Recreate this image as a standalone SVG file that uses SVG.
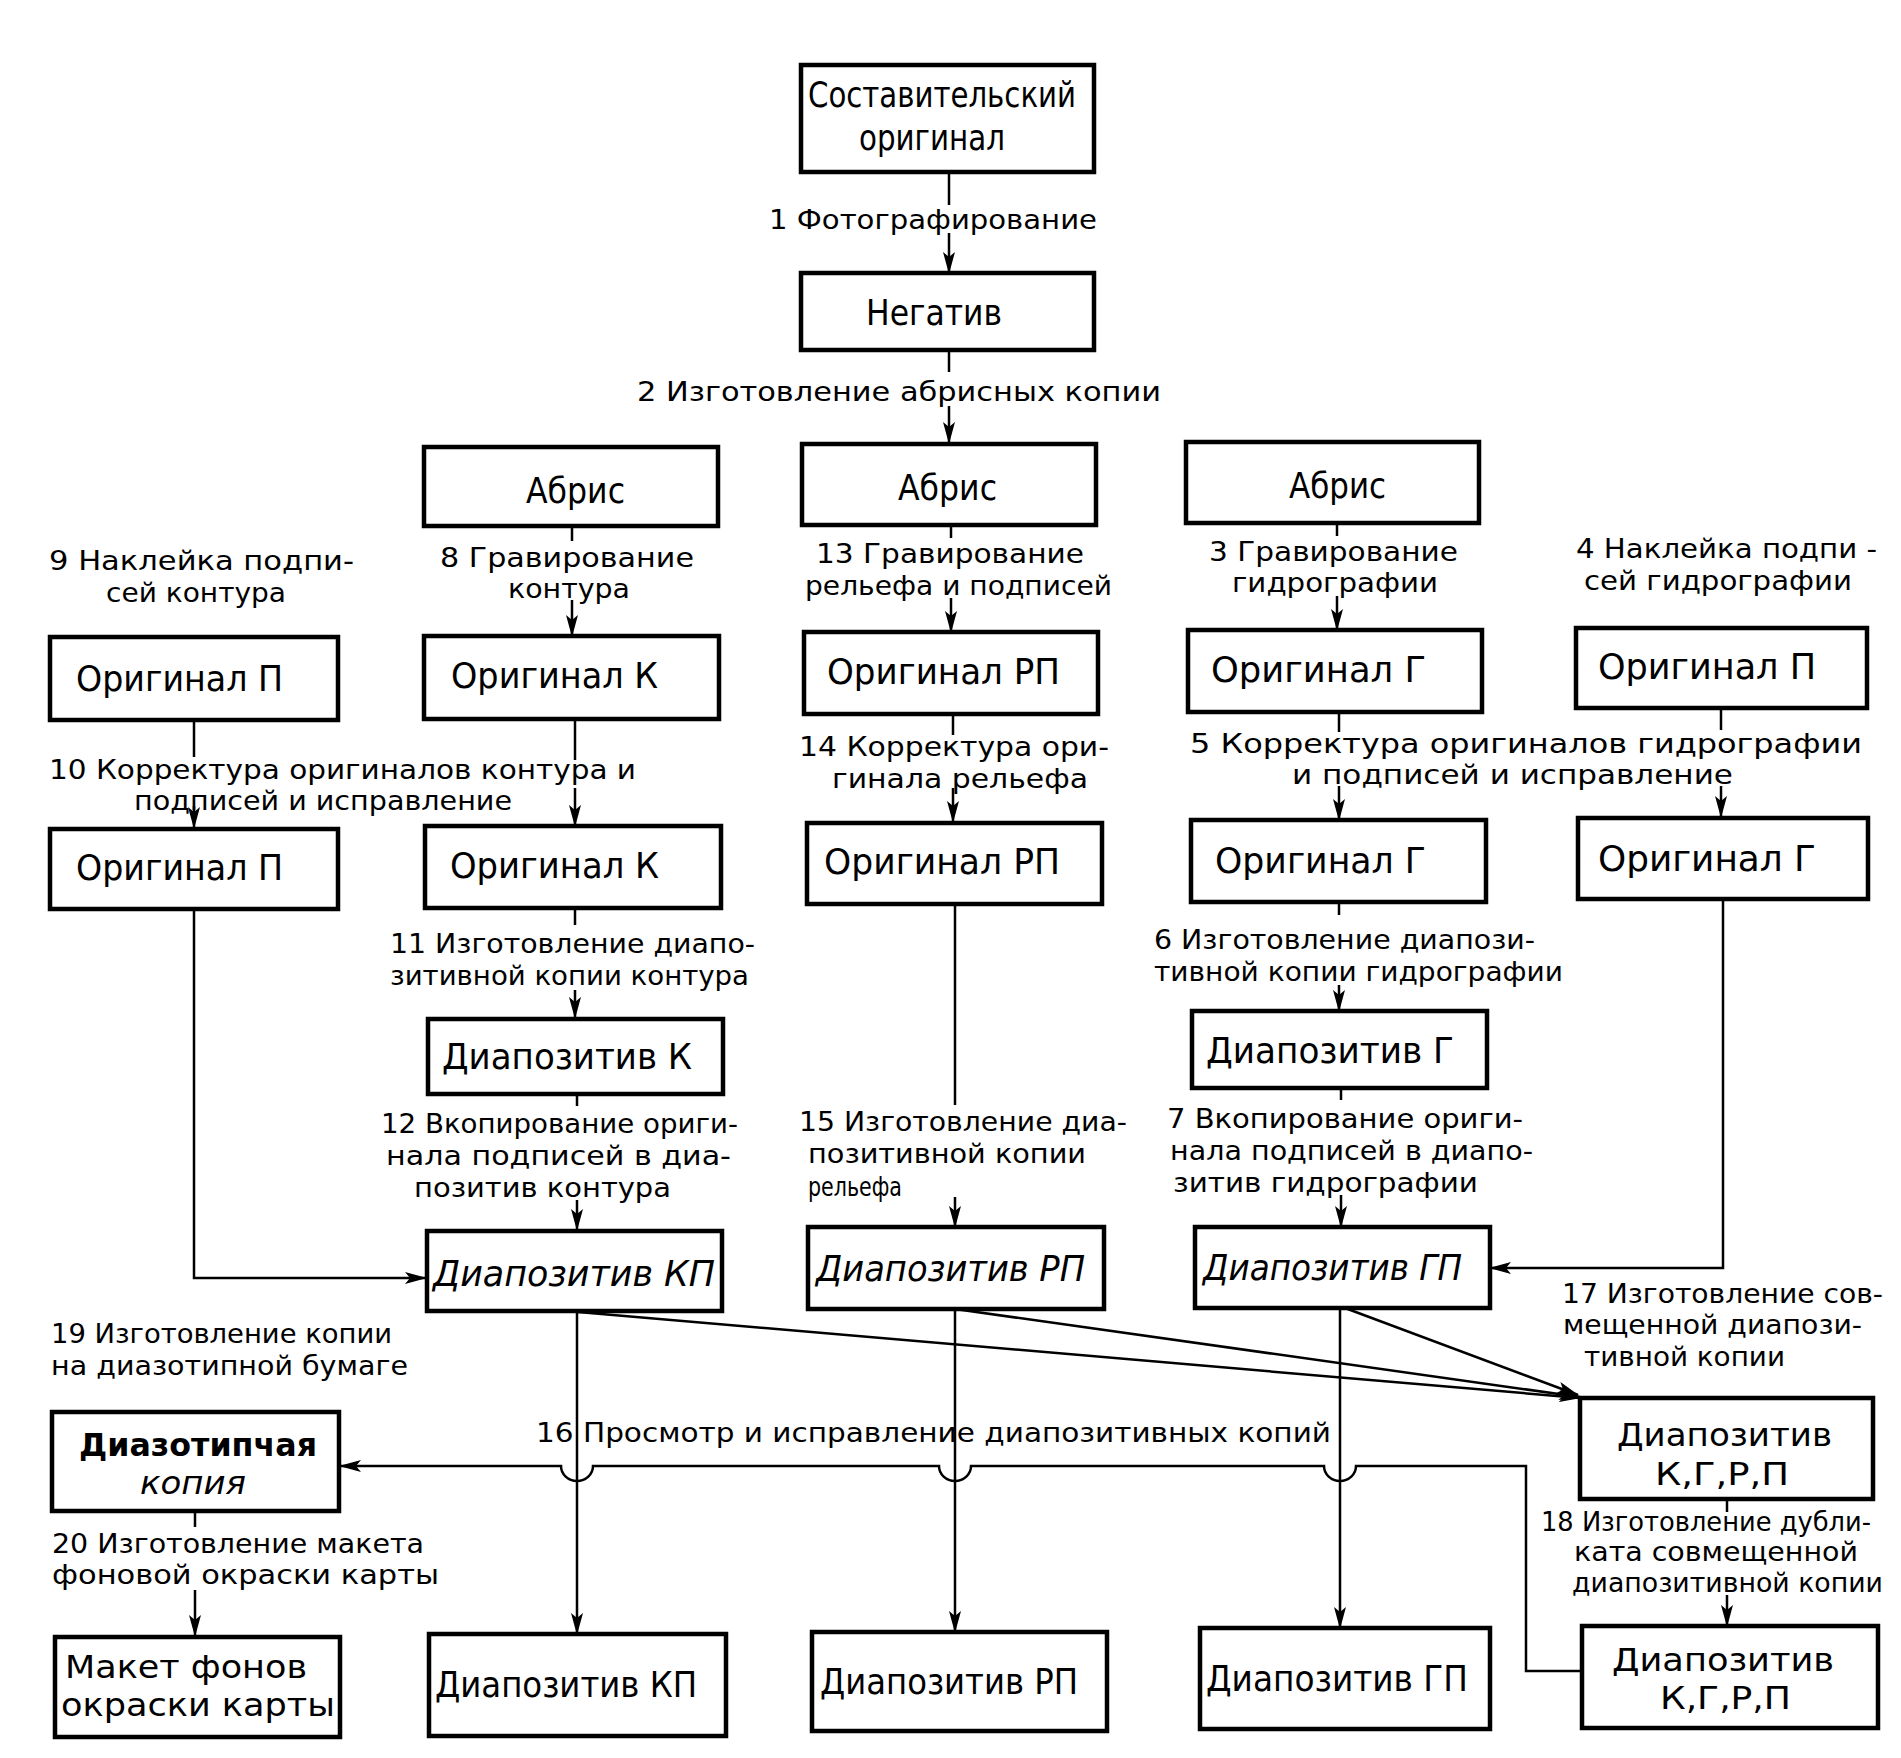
<svg xmlns="http://www.w3.org/2000/svg" width="1901" height="1758" viewBox="0 0 1901 1758">
<defs>
<marker id="ar" markerUnits="userSpaceOnUse" markerWidth="22" markerHeight="12" refX="21" refY="6" orient="auto">
<path d="M0,0 L22,6 L0,12 L5,6 z" fill="#000"/>
</marker>
<style>
.b{fill:#fff;stroke:#000;stroke-width:4.5}
.t{font-family:"Liberation Sans Narrow","DejaVu Sans Condensed","Liberation Sans",sans-serif;font-size:36px;fill:#000}
.s{font-size:32px}
.l{font-family:"Liberation Sans Narrow","DejaVu Sans Condensed","Liberation Sans",sans-serif;font-size:27px;fill:#000}
.i{font-style:italic}
.w{font-weight:bold}
.c{fill:none;stroke:#000;stroke-width:2.5}
</style>
</defs>
<rect width="1901" height="1758" fill="#fff"/>

<g id="connectors">
<path class="c" d="M949 172V205"/><path class="c" d="M949 233V273" marker-end="url(#ar)"/>
<path class="c" d="M949 350V372"/><path class="c" d="M949 406V443" marker-end="url(#ar)"/>
<path class="c" d="M572 526V541"/><path class="c" d="M572 600V636" marker-end="url(#ar)"/>
<path class="c" d="M951 525V538"/><path class="c" d="M951 598V632" marker-end="url(#ar)"/>
<path class="c" d="M1337 523V536"/><path class="c" d="M1337 596V630" marker-end="url(#ar)"/>
<path class="c" d="M194 720V757"/><path class="c" d="M194 806V828" marker-end="url(#ar)"/>
<path class="c" d="M575 719V760"/><path class="c" d="M575 788V826" marker-end="url(#ar)"/>
<path class="c" d="M953 714V735"/><path class="c" d="M953 788V822" marker-end="url(#ar)"/>
<path class="c" d="M1339 712V732"/><path class="c" d="M1339 786V820" marker-end="url(#ar)"/>
<path class="c" d="M1721 708V730"/><path class="c" d="M1721 786V817" marker-end="url(#ar)"/>
<path class="c" d="M194 909V1278H426" marker-end="url(#ar)"/>
<path class="c" d="M575 908V925"/><path class="c" d="M575 990V1018" marker-end="url(#ar)"/>
<path class="c" d="M577 1094V1106"/><path class="c" d="M577 1200V1230" marker-end="url(#ar)"/>
<path class="c" d="M955 904V1105"/><path class="c" d="M955 1197V1227" marker-end="url(#ar)"/>
<path class="c" d="M1339 902V915"/><path class="c" d="M1339 985V1011" marker-end="url(#ar)"/>
<path class="c" d="M1341 1088V1100"/><path class="c" d="M1341 1195V1227" marker-end="url(#ar)"/>
<path class="c" d="M1723 899V1268H1490" marker-end="url(#ar)"/>
<path class="c" d="M577 1311V1634" marker-end="url(#ar)"/>
<path class="c" d="M955 1309V1632" marker-end="url(#ar)"/>
<path class="c" d="M1340 1308V1628" marker-end="url(#ar)"/>
<path class="c" d="M578 1312L1580 1398" marker-end="url(#ar)"/>
<path class="c" d="M955 1309L1580 1397" marker-end="url(#ar)"/>
<path class="c" d="M1345 1308L1578 1395" marker-end="url(#ar)"/>
<path class="c" d="M1585 1671H1526V1466H1356a16 15 0 0 1 -32 0H971a16 15 0 0 1 -32 0H593a16 15 0 0 1 -32 0H340" marker-end="url(#ar)"/>
<path class="c" d="M1727 1499V1512"/><path class="c" d="M1727 1595V1626" marker-end="url(#ar)"/>
<path class="c" d="M195 1511V1527"/><path class="c" d="M195 1590V1636" marker-end="url(#ar)"/>
</g>

<g id="labels">
<text class="l" x="769" y="229" textLength="328" lengthAdjust="spacingAndGlyphs">1 Фотографирование</text>
<text class="l" x="637" y="401" textLength="524" lengthAdjust="spacingAndGlyphs">2 Изготовление абрисных копии</text>
<text class="l" x="49" y="570" textLength="305" lengthAdjust="spacingAndGlyphs">9 Наклейка подпи-</text>
<text class="l" x="106" y="602" textLength="180" lengthAdjust="spacingAndGlyphs">сей контура</text>
<text class="l" x="440" y="567" textLength="254" lengthAdjust="spacingAndGlyphs">8 Гравирование</text>
<text class="l" x="508" y="598" textLength="122" lengthAdjust="spacingAndGlyphs">контура</text>
<text class="l" x="816" y="563" textLength="268" lengthAdjust="spacingAndGlyphs">13 Гравирование</text>
<text class="l" x="805" y="595" textLength="307" lengthAdjust="spacingAndGlyphs">рельефа и подписей</text>
<text class="l" x="1209" y="561" textLength="249" lengthAdjust="spacingAndGlyphs">3 Гравирование</text>
<text class="l" x="1232" y="592" textLength="206" lengthAdjust="spacingAndGlyphs">гидрографии</text>
<text class="l" x="1576" y="558" textLength="301" lengthAdjust="spacingAndGlyphs">4 Наклейка подпи -</text>
<text class="l" x="1584" y="590" textLength="268" lengthAdjust="spacingAndGlyphs">сей гидрографии</text>
<text class="l" x="49" y="779" textLength="587" lengthAdjust="spacingAndGlyphs">10 Корректура оригиналов контура и</text>
<text class="l" x="134" y="810" textLength="378" lengthAdjust="spacingAndGlyphs">подписей и исправление</text>
<text class="l" x="799" y="756" textLength="310" lengthAdjust="spacingAndGlyphs">14 Корректура ори-</text>
<text class="l" x="832" y="788" textLength="256" lengthAdjust="spacingAndGlyphs">гинала рельефа</text>
<text class="l" x="1190" y="753" textLength="672" lengthAdjust="spacingAndGlyphs">5 Корректура оригиналов гидрографии</text>
<text class="l" x="1292" y="784" textLength="441" lengthAdjust="spacingAndGlyphs">и подписей и исправление</text>
<text class="l" x="390" y="953" textLength="365" lengthAdjust="spacingAndGlyphs">11 Изготовление диапо-</text>
<text class="l" x="390" y="985" textLength="359" lengthAdjust="spacingAndGlyphs">зитивной копии контура</text>
<text class="l" x="1154" y="949" textLength="381" lengthAdjust="spacingAndGlyphs">6 Изготовление диапози-</text>
<text class="l" x="1154" y="981" textLength="409" lengthAdjust="spacingAndGlyphs">тивной копии гидрографии</text>
<text class="l" x="381" y="1133" textLength="357" lengthAdjust="spacingAndGlyphs">12 Вкопирование ориги-</text>
<text class="l" x="386" y="1165" textLength="345" lengthAdjust="spacingAndGlyphs">нала подписей в диа-</text>
<text class="l" x="414" y="1197" textLength="257" lengthAdjust="spacingAndGlyphs">позитив контура</text>
<text class="l" x="799" y="1131" textLength="328" lengthAdjust="spacingAndGlyphs">15 Изготовление диа-</text>
<text class="l" x="808" y="1163" textLength="278" lengthAdjust="spacingAndGlyphs">позитивной копии</text>
<text class="l" x="808" y="1196" textLength="94" lengthAdjust="spacingAndGlyphs">рельефа</text>
<text class="l" x="1167" y="1128" textLength="356" lengthAdjust="spacingAndGlyphs">7 Вкопирование ориги-</text>
<text class="l" x="1170" y="1160" textLength="363" lengthAdjust="spacingAndGlyphs">нала подписей в диапо-</text>
<text class="l" x="1173" y="1192" textLength="305" lengthAdjust="spacingAndGlyphs">зитив гидрографии</text>
<text class="l" x="1562" y="1303" textLength="321" lengthAdjust="spacingAndGlyphs">17 Изготовление сов-</text>
<text class="l" x="1563" y="1334" textLength="299" lengthAdjust="spacingAndGlyphs">мещенной диапози-</text>
<text class="l" x="1584" y="1366" textLength="201" lengthAdjust="spacingAndGlyphs">тивной копии</text>
<text class="l" x="51" y="1343" textLength="341" lengthAdjust="spacingAndGlyphs">19 Изготовление копии</text>
<text class="l" x="51" y="1375" textLength="357" lengthAdjust="spacingAndGlyphs">на диазотипной бумаге</text>
<text class="l" x="536" y="1442" textLength="795" lengthAdjust="spacingAndGlyphs">16 Просмотр и исправление диапозитивных копий</text>
<text class="l" x="52" y="1553" textLength="372" lengthAdjust="spacingAndGlyphs">20 Изготовление макета</text>
<text class="l" x="52" y="1584" textLength="387" lengthAdjust="spacingAndGlyphs">фоновой окраски карты</text>
<text class="l" x="1541" y="1531" textLength="330" lengthAdjust="spacingAndGlyphs">18 Изготовление дубли-</text>
<text class="l" x="1574" y="1561" textLength="284" lengthAdjust="spacingAndGlyphs">ката совмещенной</text>
<text class="l" x="1572" y="1592" textLength="311" lengthAdjust="spacingAndGlyphs">диапозитивной копии</text>
</g>

<g id="n-sostav"><rect class="b" x="801" y="65" width="293" height="107"/>
<text class="t" x="808" y="107" textLength="268" lengthAdjust="spacingAndGlyphs">Составительский</text>
<text class="t" x="859" y="150" textLength="146" lengthAdjust="spacingAndGlyphs">оригинал</text></g>
<g id="n-negativ"><rect class="b" x="801" y="273" width="293" height="77"/>
<text class="t" x="866" y="325" textLength="136" lengthAdjust="spacingAndGlyphs">Негатив</text></g>
<g id="n-abris-k"><rect class="b" x="424" y="447" width="294" height="79"/>
<text class="t" x="526" y="503" textLength="99" lengthAdjust="spacingAndGlyphs">Абрис</text></g>
<g id="n-abris-r"><rect class="b" x="802" y="444" width="294" height="81"/>
<text class="t" x="898" y="500" textLength="99" lengthAdjust="spacingAndGlyphs">Абрис</text></g>
<g id="n-abris-g"><rect class="b" x="1186" y="442" width="293" height="81"/>
<text class="t" x="1289" y="498" textLength="97" lengthAdjust="spacingAndGlyphs">Абрис</text></g>

<g id="n-orig-p1"><rect class="b" x="50" y="637" width="288" height="83"/>
<text class="t" x="76" y="691" textLength="207" lengthAdjust="spacingAndGlyphs">Оригинал П</text></g>
<g id="n-orig-k1"><rect class="b" x="424" y="636" width="295" height="83"/>
<text class="t" x="451" y="688" textLength="207" lengthAdjust="spacingAndGlyphs">Оригинал К</text></g>
<g id="n-orig-rp1"><rect class="b" x="804" y="632" width="294" height="82"/>
<text class="t" x="827" y="684" textLength="233" lengthAdjust="spacingAndGlyphs">Оригинал РП</text></g>
<g id="n-orig-g1"><rect class="b" x="1188" y="630" width="294" height="82"/>
<text class="t" x="1211" y="682" textLength="215" lengthAdjust="spacingAndGlyphs">Оригинал  Г</text></g>
<g id="n-orig-p2"><rect class="b" x="1576" y="628" width="291" height="80"/>
<text class="t" x="1598" y="679" textLength="218" lengthAdjust="spacingAndGlyphs">Оригинал  П</text></g>

<g id="n-orig-p3"><rect class="b" x="50" y="829" width="288" height="80"/>
<text class="t" x="76" y="880" textLength="207" lengthAdjust="spacingAndGlyphs">Оригинал П</text></g>
<g id="n-orig-k2"><rect class="b" x="425" y="826" width="296" height="82"/>
<text class="t" x="450" y="878" textLength="209" lengthAdjust="spacingAndGlyphs">Оригинал К</text></g>
<g id="n-orig-rp2"><rect class="b" x="807" y="823" width="295" height="81"/>
<text class="t" x="824" y="874" textLength="236" lengthAdjust="spacingAndGlyphs">Оригинал РП</text></g>
<g id="n-orig-g2"><rect class="b" x="1191" y="820" width="295" height="82"/>
<text class="t" x="1215" y="873" textLength="211" lengthAdjust="spacingAndGlyphs">Оригинал Г</text></g>
<g id="n-orig-g3"><rect class="b" x="1578" y="818" width="290" height="81"/>
<text class="t" x="1598" y="871" textLength="218" lengthAdjust="spacingAndGlyphs">Оригинал Г</text></g>

<g id="n-diap-k"><rect class="b" x="428" y="1019" width="295" height="75"/>
<text class="t" x="442" y="1069" textLength="250" lengthAdjust="spacingAndGlyphs">Диапозитив К</text></g>
<g id="n-diap-g"><rect class="b" x="1192" y="1011" width="295" height="77"/>
<text class="t" x="1206" y="1063" textLength="248" lengthAdjust="spacingAndGlyphs">Диапозитив Г</text></g>

<g id="n-diap-kp1"><rect class="b" x="427" y="1231" width="295" height="80"/>
<text class="t i" x="433" y="1286" textLength="282" lengthAdjust="spacingAndGlyphs">Диапозитив КП</text></g>
<g id="n-diap-rp1"><rect class="b" x="808" y="1227" width="296" height="82"/>
<text class="t i" x="816" y="1281" textLength="269" lengthAdjust="spacingAndGlyphs">Диапозитив РП</text></g>
<g id="n-diap-gp1"><rect class="b" x="1195" y="1227" width="295" height="81"/>
<text class="t i" x="1203" y="1280" textLength="259" lengthAdjust="spacingAndGlyphs">Диапозитив ГП</text></g>
<g id="n-diap-kgrp1"><rect class="b" x="1580" y="1398" width="293" height="101"/>
<text class="t s" x="1617" y="1446" textLength="215" lengthAdjust="spacingAndGlyphs">Диапозитив</text>
<text class="t s" x="1655" y="1485" textLength="134" lengthAdjust="spacingAndGlyphs">К,Г,Р,П</text></g>

<g id="n-diazo"><rect class="b" x="52" y="1412" width="287" height="99"/>
<text class="t s w" x="79" y="1456" textLength="238" lengthAdjust="spacingAndGlyphs">Диазотипчая</text>
<text class="t s i" x="140" y="1494" textLength="106" lengthAdjust="spacingAndGlyphs">копия</text></g>
<g id="n-maket"><rect class="b" x="55" y="1637" width="285" height="100"/>
<text class="t s" x="65" y="1678" textLength="242" lengthAdjust="spacingAndGlyphs">Макет фонов</text>
<text class="t s" x="61" y="1716" textLength="274" lengthAdjust="spacingAndGlyphs">окраски карты</text></g>
<g id="n-diap-kp2"><rect class="b" x="429" y="1634" width="297" height="102"/>
<text class="t" x="435" y="1697" textLength="262" lengthAdjust="spacingAndGlyphs">Диапозитив КП</text></g>
<g id="n-diap-rp2"><rect class="b" x="812" y="1632" width="295" height="99"/>
<text class="t" x="820" y="1694" textLength="258" lengthAdjust="spacingAndGlyphs">Диапозитив РП</text></g>
<g id="n-diap-gp2"><rect class="b" x="1200" y="1628" width="290" height="101"/>
<text class="t" x="1206" y="1691" textLength="262" lengthAdjust="spacingAndGlyphs">Диапозитив ГП</text></g>
<g id="n-diap-kgrp2"><rect class="b" x="1582" y="1626" width="296" height="102"/>
<text class="t s" x="1612" y="1671" textLength="222" lengthAdjust="spacingAndGlyphs">Диапозитив</text>
<text class="t s" x="1660" y="1709" textLength="131" lengthAdjust="spacingAndGlyphs">К,Г,Р,П</text></g>
</svg>
